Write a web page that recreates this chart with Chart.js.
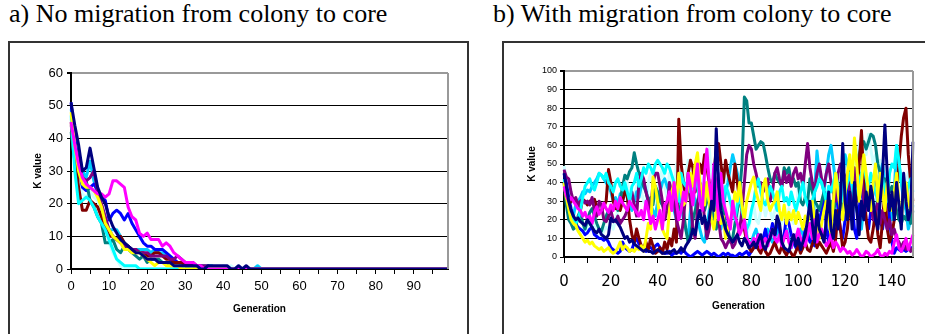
<!DOCTYPE html>
<html>
<head>
<meta charset="utf-8">
<script src="https://cdn.jsdelivr.net/npm/chart.js@4"></script>
<style>
  body { margin: 0; background: #fff; }
  #page { position: relative; width: 925px; height: 334px; overflow: hidden; }
  .title { position: absolute; top: 1px; font-family: "Liberation Serif", "Times New Roman", serif; font-size: 26px; line-height: 26px; color: #000; white-space: nowrap; }
  .frame { position: absolute; top: 41px; height: 330px; border: 2px solid #333; }
  .wrap { position: absolute; }
</style>
</head>
<body>
<div id="page">
  <div class="title" style="left:9px">a) No migration from colony to core</div>
  <div class="title" style="left:493px">b) With migration from colony to core</div>
  <div class="frame" style="left:8px;width:457px"></div>
  <div class="frame" style="left:502px;width:440px"></div>
  <div class="wrap" style="left:10px;top:58px;width:455px;height:268px"><canvas id="chartA"></canvas></div>
  <div class="wrap" style="left:505px;top:56px;width:420px;height:270px"><canvas id="chartB"></canvas></div>
</div>
<script>
// generations (categories)
const genA = Array.from({ length: 100 }, (_, i) => i);
const genB = Array.from({ length: 150 }, (_, i) => i);

const yTicksA = [0, 10, 20, 30, 40, 50, 60];
const yTicksB = [0, 10, 20, 30, 40, 50, 60, 70, 80, 90, 100];

// Excel default line colours, in series order
const seriesColors = ["#000080", "#FF00FF", "#FFFF00", "#00FFFF", "#800080", "#800000", "#008080", "#0000FF", "#00CCFF", "#CCFFFF"];

// ---- a) No migration from colony to core ----
const a_navy = [
  51, 44, 38, 30, 31, 37, 31, 25, 22, 20, 16, 13, 11, 9, 8, 7, 6, 5, 5, 4,
  3, 3, 3, 2, 2, 2, 2, 1, 1, 1, 1, 1, 1, 1, 0, 0, 1, 1, 1, 1,
  1, 1, 0, 0, 1, 0, 1, 0, 0, 0, 0, 0, 0, 0, 0, 0, 0, 0, 0, 0,
  0, 0, 0, 0, 0, 0, 0, 0, 0, 0, 0, 0, 0, 0, 0, 0, 0, 0, 0, 0,
  0, 0, 0, 0, 0, 0, 0, 0, 0, 0, 0, 0, 0, 0, 0, 0, 0, 0, 0, 0,
];
const a_magenta = [
  45, 38, 32, 28, 26, 25, 24, 23, 23, 22, 23, 27, 27, 26, 25, 19, 16, 15, 11, 10,
  11, 9, 9, 9, 7, 8, 7, 5, 4, 3, 2, 2, 2, 1, 1, 0, 0, 0, 0, 0,
  0, 0, 0, 0, 0, 0, 0, 0, 0, 0, 0, 0, 0, 0, 0, 0, 0, 0, 0, 0,
  0, 0, 0, 0, 0, 0, 0, 0, 0, 0, 0, 0, 0, 0, 0, 0, 0, 0, 0, 0,
  0, 0, 0, 0, 0, 0, 0, 0, 0, 0, 0, 0, 0, 0, 0, 0, 0, 0, 0, 0,
];
const a_yellow = [
  48, 38, 30, 26, 25, 25, 24, 22, 19, 14, 12, 10, 9, 8, 6, 6, 5, 5, 5, 4,
  3, 2, 1, 2, 2, 1, 1, 1, 1, 0, 0, 0, 0, 0, 0, 0, 0, 0, 0, 0,
  0, 0, 0, 0, 0, 0, 0, 0, 0, 0, 0, 0, 0, 0, 0, 0, 0, 0, 0, 0,
  0, 0, 0, 0, 0, 0, 0, 0, 0, 0, 0, 0, 0, 0, 0, 0, 0, 0, 0, 0,
  0, 0, 0, 0, 0, 0, 0, 0, 0, 0, 0, 0, 0, 0, 0, 0, 0, 0, 0, 0,
];
const a_cyan = [
  47, 30, 20, 21, 22, 21, 19, 16, 14, 12, 9, 6, 3, 2, 1, 1, 1, 1, 0, 0,
  0, 0, 0, 0, 0, 0, 0, 0, 0, 0, 0, 0, 0, 0, 0, 0, 0, 0, 0, 0,
  0, 0, 0, 0, 0, 0, 0, 0, 0, 0, 0, 0, 0, 0, 0, 0, 0, 0, 0, 0,
  0, 0, 0, 0, 0, 0, 0, 0, 0, 0, 0, 0, 0, 0, 0, 0, 0, 0, 0, 0,
  0, 0, 0, 0, 0, 0, 0, 0, 0, 0, 0, 0, 0, 0, 0, 0, 0, 0, 0, 0,
];
const a_purple = [
  44, 38, 33, 28, 27, 28, 30, 24, 20, 16, 12, 10, 9, 8, 7, 7, 6, 6, 5, 5,
  5, 4, 4, 4, 4, 4, 3, 3, 4, 3, 2, 2, 2, 1, 1, 1, 1, 0, 0, 0,
  0, 0, 0, 0, 0, 0, 0, 0, 0, 0, 0, 0, 0, 0, 0, 0, 0, 0, 0, 0,
  0, 0, 0, 0, 0, 0, 0, 0, 0, 0, 0, 0, 0, 0, 0, 0, 0, 0, 0, 0,
  0, 0, 0, 0, 0, 0, 0, 0, 0, 0, 0, 0, 0, 0, 0, 0, 0, 0, 0, 0,
];
const a_darkred = [
  45, 34, 25, 18, 18, 21, 20, 19, 16, 13, 10, 10, 9, 10, 8, 7, 6, 6, 5, 5,
  4, 4, 5, 5, 4, 3, 3, 2, 2, 2, 1, 1, 1, 0, 0, 0, 0, 0, 0, 0,
  0, 0, 0, 0, 0, 0, 0, 0, 0, 0, 0, 0, 0, 0, 0, 0, 0, 0, 0, 0,
  0, 0, 0, 0, 0, 0, 0, 0, 0, 0, 0, 0, 0, 0, 0, 0, 0, 0, 0, 0,
  0, 0, 0, 0, 0, 0, 0, 0, 0, 0, 0, 0, 0, 0, 0, 0, 0, 0, 0, 0,
];
const a_teal = [
  42, 33, 28, 28, 27, 21, 19, 16, 14, 8, 8, 9, 6, 5, 7, 6, 5, 4, 3, 4,
  2, 3, 3, 3, 2, 2, 1, 1, 1, 1, 1, 0, 0, 0, 0, 0, 0, 0, 0, 0,
  0, 0, 0, 0, 0, 0, 0, 0, 0, 0, 0, 0, 0, 0, 0, 0, 0, 0, 0, 0,
  0, 0, 0, 0, 0, 0, 0, 0, 0, 0, 0, 0, 0, 0, 0, 0, 0, 0, 0, 0,
  0, 0, 0, 0, 0, 0, 0, 0, 0, 0, 0, 0, 0, 0, 0, 0, 0, 0, 0, 0,
];
const a_blue = [
  51, 40, 31, 25, 24, 25, 26, 24, 22, 21, 15, 17, 18, 17, 15, 17, 14, 12, 10, 8,
  7, 7, 6, 6, 6, 5, 4, 3, 2, 2, 2, 1, 1, 1, 1, 0, 0, 0, 0, 0,
  0, 0, 0, 0, 0, 0, 0, 0, 0, 0, 0, 0, 0, 0, 0, 0, 0, 0, 0, 0,
  0, 0, 0, 0, 0, 0, 0, 0, 0, 0, 0, 0, 0, 0, 0, 0, 0, 0, 0, 0,
  0, 0, 0, 0, 0, 0, 0, 0, 0, 0, 0, 0, 0, 0, 0, 0, 0, 0, 0, 0,
];
const a_skyblue = [
  49, 42, 36, 30, 28, 33, 27, 23, 19, 15, 12, 12, 12, 10, 8, 7, 6, 6, 6, 6,
  6, 5, 6, 5, 5, 4, 3, 2, 2, 2, 1, 1, 1, 1, 1, 1, 1, 1, 0, 0,
  0, 0, 0, 0, 0, 0, 0, 0, 0, 1, 0, 0, 0, 0, 0, 0, 0, 0, 0, 0,
  0, 0, 0, 0, 0, 0, 0, 0, 0, 0, 0, 0, 0, 0, 0, 0, 0, 0, 0, 0,
  0, 0, 0, 0, 0, 0, 0, 0, 0, 0, 0, 0, 0, 0, 0, 0, 0, 0, 0, 0,
];
const a_lightcyan = [
  46, 35, 27, 23, 22, 24, 22, 21, 17, 12, 8, 5, 3, 1, 0, 0, 0, 0, 0, 0,
  0, 0, 0, 0, 0, 0, 0, 0, 0, 0, 0, 0, 0, 0, 0, 0, 0, 0, 0, 0,
  1, 0, 1, 0, 1, 0, 0, 0, 0, 0, 0, 0, 0, 0, 0, 0, 0, 0, 0, 0,
  0, 0, 0, 0, 0, 0, 0, 0, 0, 0, 0, 0, 0, 0, 0, 0, 0, 0, 0, 0,
  0, 0, 0, 0, 0, 0, 0, 0, 0, 0, 0, 0, 0, 0, 0, 0, 0, 0, 0, 0,
];

// ---- b) With migration from colony to core ----
const b_navy = [
  45, 38, 30, 25, 22, 20, 21, 19, 18, 17, 20, 18, 16, 14, 13, 15, 12, 11, 10, 12,
  21, 19, 20, 18, 16, 13, 10, 11, 8, 9, 7, 6, 5, 4, 3, 4, 3, 3, 2, 3,
  4, 3, 2, 2, 3, 2, 3, 4, 2, 3, 5, 3, 6, 8, 10, 15, 12, 20, 25, 18,
  22, 15, 20, 30, 25, 69, 40, 25, 20, 15, 12, 10, 8, 10, 12, 8, 6, 10, 8, 5,
  6, 8, 5, 9, 12, 6, 4, 8, 10, 15, 12, 22, 18, 8, 5, 4, 3, 8, 12, 6,
  10, 4, 8, 12, 20, 30, 18, 8, 25, 15, 12, 8, 20, 35, 15, 10, 25, 15, 30, 61,
  30, 20, 35, 15, 40, 25, 12, 30, 20, 35, 25, 38, 30, 20, 15, 30, 45, 71, 45, 25,
  35, 20, 40, 28, 15, 45, 30, 20, 25, 62,
];
const b_magenta = [
  38, 33, 30, 32, 30, 28, 26, 25, 22, 24, 20, 22, 18, 24, 27, 23, 25, 29, 26, 24,
  28, 25, 30, 26, 32, 29, 27, 25, 30, 28, 26, 24, 22, 25, 20, 30, 25, 18, 22, 15,
  20, 25, 15, 28, 30, 35, 25, 40, 30, 20, 25, 35, 30, 45, 38, 28, 40, 50, 30, 25,
  45, 58, 40, 30, 50, 35, 20, 45, 30, 25, 20, 15, 30, 22, 18, 12, 15, 20, 10, 8,
  6, 10, 8, 12, 5, 8, 10, 6, 12, 15, 10, 8, 12, 6, 10, 14, 8, 5, 12, 10,
  15, 10, 8, 6, 12, 18, 10, 20, 8, 12, 15, 10, 6, 8, 12, 5, 8, 6, 3, 5,
  4, 2, 3, 1, 2, 4, 2, 0, 1, 3, 2, 0, 1, 2, 4, 1, 0, 2, 1, 3,
  2, 8, 12, 5, 3, 6, 10, 4, 8, 12,
];
const b_yellow = [
  40, 32, 26, 20, 18, 17, 14, 12, 10, 8, 9, 7, 8, 6, 5, 4, 5, 3, 4, 5,
  3, 2, 3, 5, 8, 4, 6, 5, 3, 4, 3, 5, 4, 6, 3, 10, 18, 15, 43, 38,
  30, 20, 15, 12, 10, 25, 35, 40, 30, 45, 35, 28, 30, 40, 45, 38, 50, 56, 40, 35,
  28, 40, 30, 20, 15, 25, 30, 18, 22, 10, 15, 20, 25, 35, 30, 40, 28, 20, 30, 35,
  40, 43, 35, 30, 25, 38, 42, 30, 25, 28, 30, 35, 25, 20, 28, 18, 24, 20, 25, 18,
  24, 20, 15, 22, 18, 25, 30, 20, 15, 10, 18, 25, 30, 20, 12, 30, 45, 35, 25, 20,
  35, 45, 55, 40, 64, 50, 30, 40, 55, 45, 35, 25, 40, 50, 30, 45, 35, 25, 40, 30,
  25, 35, 45, 30, 20, 35, 40, 30, 25, 30,
];
const b_cyan = [
  42, 35, 28, 24, 20, 18, 20, 25, 32, 38, 40, 42, 38, 36, 40, 45, 44, 42, 45, 40,
  38, 35, 40, 42, 38, 36, 40, 35, 30, 38, 40, 45, 38, 42, 48, 45, 50, 48, 45, 50,
  52, 50, 48, 45, 50, 48, 44, 40, 35, 30, 45, 40, 38, 42, 35, 40, 45, 38, 30, 35,
  40, 35, 30, 38, 42, 35, 28, 30, 32, 38, 35, 30, 25, 20, 28, 32, 25, 20, 15, 18,
  25, 30, 38, 42, 35, 30, 28, 32, 38, 35, 30, 25, 35, 38, 30, 32, 28, 35, 30, 25,
  30, 35, 40, 32, 28, 25, 30, 35, 38, 42, 40, 35, 30, 38, 35, 40, 45, 38, 32, 30,
  35, 40, 45, 38, 30, 35, 40, 45, 50, 42, 38, 45, 40, 35, 30, 38, 42, 35, 30, 45,
  50, 48, 60, 52, 40, 35, 30, 38, 42, 35,
];
const b_purple = [
  47, 43, 42, 35, 30, 32, 28, 30, 31, 29, 30, 28, 32, 25, 22, 30, 28, 20, 19, 22,
  25, 20, 19, 22, 18, 20, 22, 25, 30, 35, 28, 22, 40, 45, 42, 35, 30, 25, 40, 45,
  45, 38, 30, 20, 25, 40, 35, 30, 20, 15, 10, 20, 35, 40, 30, 15, 10, 25, 40, 35,
  20, 10, 15, 30, 45, 40, 20, 10, 8, 5, 8, 10, 5, 7, 12, 15, 25, 40, 55, 60,
  58, 50, 45, 38, 40, 35, 38, 42, 30, 35, 45, 48, 42, 38, 46, 40, 44, 38, 45, 48,
  42, 45, 38, 50, 61, 48, 40, 35, 45, 50, 42, 38, 45, 50, 40, 35, 30, 45, 50, 48,
  40, 45, 35, 30, 48, 40, 35, 45, 30, 25, 35, 28, 20, 25, 30, 18, 25, 20, 15, 20,
  12, 15, 10, 8, 5, 8, 4, 6, 3, 5,
];
const b_darkred = [
  40, 32, 28, 30, 31, 30, 28, 25, 31, 30, 28, 30, 29, 31, 27, 24, 25, 27, 30, 47,
  40, 30, 26, 28, 25, 30, 35, 33, 20, 12, 8, 15, 10, 6, 5, 8, 4, 10, 6, 2,
  3, 5, 2, 8, 4, 10, 6, 15, 8, 74, 50, 40, 30, 45, 52, 48, 35, 40, 50, 45,
  55, 48, 40, 30, 45, 58, 61, 50, 40, 52, 45, 40, 35, 50, 40, 30, 25, 15, 8, 5,
  3, 5, 8, 4, 2, 6, 3, 1, 2, 5, 8, 4, 2, 6, 3, 1, 4, 2, 0, 3,
  6, 2, 5, 8, 4, 3, 7, 10, 5, 8, 6, 4, 2, 5, 8, 3, 10, 25, 15, 5,
  8, 15, 30, 20, 45, 30, 50, 68, 40, 20, 10, 8, 15, 25, 12, 5, 20, 35, 15, 8,
  12, 20, 35, 50, 65, 75, 80, 55, 40, 30,
];
const b_teal = [
  40, 28, 20, 18, 15, 16, 22, 25, 18, 15, 20, 24, 26, 22, 18, 15, 14, 18, 22, 25,
  24, 26, 28, 25, 30, 38, 44, 42, 46, 48, 56, 50, 45, 42, 38, 35, 30, 32, 28, 38,
  35, 30, 28, 25, 30, 28, 32, 35, 30, 25, 28, 25, 15, 8, 12, 20, 25, 30, 35, 28,
  25, 30, 35, 28, 20, 15, 22, 30, 25, 18, 15, 8, 10, 18, 25, 35, 50, 86, 84, 72,
  72, 65, 58, 60, 62, 61, 55, 48, 42, 40, 45, 42, 40, 38, 48, 45, 48, 40, 42, 38,
  40, 30, 28, 32, 30, 42, 35, 30, 28, 25, 30, 35, 28, 25, 30, 20, 35, 40, 30, 25,
  35, 40, 50, 45, 35, 40, 55, 60, 62, 58, 62, 66, 65, 60, 50, 45, 38, 42, 40, 35,
  38, 30, 25, 20, 18, 22, 20, 25, 18, 25,
];
const b_blue = [
  45, 40, 32, 26, 22, 18, 16, 15, 14, 12, 13, 15, 16, 12, 11, 10, 10, 9, 10, 8,
  5, 4, 3, 2, 3, 8, 5, 4, 3, 4, 8, 10, 7, 6, 5, 3, 6, 5, 4, 6,
  7, 5, 3, 2, 2, 3, 1, 2, 2, 3, 2, 4, 2, 1, 0, 1, 2, 3, 2, 1,
  2, 3, 2, 1, 2, 1, 0, 1, 2, 1, 2, 1, 1, 0, 1, 2, 1, 2, 3, 1,
  3, 5, 8, 12, 6, 10, 15, 8, 12, 18, 10, 20, 15, 8, 12, 22, 18, 12, 8, 5,
  10, 6, 8, 15, 12, 8, 10, 6, 12, 20, 25, 35, 15, 8, 20, 30, 40, 25, 15, 10,
  20, 35, 45, 30, 15, 10, 25, 40, 30, 20, 15, 25, 35, 45, 30, 20, 15, 25, 35, 20,
  8, 2, 5, 4, 3, 4, 3, 4, 5, 5,
];
const b_skyblue = [
  40, 36, 30, 25, 22, 28, 30, 32, 35, 34, 36, 35, 38, 40, 42, 45, 44, 42, 40, 38,
  35, 30, 32, 28, 34, 30, 36, 32, 28, 25, 30, 35, 32, 38, 40, 36, 30, 28, 25, 22,
  30, 35, 40, 42, 38, 35, 30, 25, 20, 35, 28, 20, 15, 10, 25, 35, 30, 20, 15, 10,
  8, 15, 25, 35, 40, 30, 20, 15, 25, 35, 40, 48, 55, 50, 45, 35, 28, 20, 12, 5,
  8, 12, 15, 10, 6, 8, 12, 15, 10, 8, 12, 15, 10, 8, 12, 15, 10, 5, 8, 12,
  10, 15, 12, 8, 14, 10, 6, 35, 57, 45, 40, 35, 45, 55, 60, 50, 40, 30, 25, 40,
  55, 50, 45, 35, 30, 25, 20, 15, 28, 40, 35, 30, 25, 20, 35, 45, 50, 40, 30, 25,
  20, 35, 60, 50, 40, 30, 25, 15, 20, 28,
];
const b_lightcyan = [
  49, 42, 35, 28, 24, 18, 14, 12, 15, 14, 16, 18, 20, 17, 12, 10, 11, 14, 16, 15,
  17, 15, 20, 25, 30, 35, 38, 40, 35, 30, 32, 38, 42, 35, 30, 28, 40, 45, 38, 30,
  35, 42, 48, 38, 32, 45, 40, 35, 50, 42, 30, 38, 45, 52, 40, 35, 48, 55, 42, 38,
  45, 50, 59, 42, 35, 48, 40, 30, 38, 45, 35, 28, 22, 30, 25, 20, 18, 15, 12, 16,
  22, 28, 20, 18, 25, 30, 22, 28, 25, 20, 25, 28, 22, 18, 24, 20, 26, 22, 18, 20,
  38, 42, 45, 40, 35, 30, 25, 28, 22, 20, 25, 30, 20, 15, 8, 5, 15, 22, 35, 25,
  18, 22, 35, 40, 50, 55, 60, 66, 62, 55, 66, 58, 50, 55, 48, 52, 45, 40, 35, 30,
  28, 32, 30, 25, 28, 35, 40, 45, 48, 45,
];

const seriesA = [a_navy, a_magenta, a_yellow, a_cyan, a_purple, a_darkred, a_teal, a_blue, a_skyblue, a_lightcyan];
const seriesB = [b_navy, b_magenta, b_yellow, b_cyan, b_purple, b_darkred, b_teal, b_blue, b_skyblue, b_lightcyan];

// gray plot-area border on the right side
const plotBorder = {
  id: "plotBorder",
  afterDraw(chart) {
    const { ctx, chartArea } = chart;
    ctx.save();
    ctx.strokeStyle = "#999";
    ctx.lineWidth = 2;
    ctx.beginPath();
    ctx.moveTo(chartArea.right, chartArea.top);
    ctx.lineTo(chartArea.right, chartArea.bottom);
    ctx.stroke();
    ctx.restore();
  },
};

function buildChart(id, labels, series, o) {
  const yMax = o.yTicks[o.yTicks.length - 1];
  return new Chart(document.getElementById(id), {
    type: "line",
    plugins: [plotBorder],
    data: {
      labels: labels,
      datasets: series.map((vals, i) => ({
        data: vals,
        borderColor: seriesColors[i],
        borderWidth: 3,
        pointRadius: 0,
        tension: 0,
        borderJoinStyle: "round",
        fill: false,
      })),
    },
    options: {
      responsive: true,
      maintainAspectRatio: false,
      animation: false,
      layout: { padding: o.padding },
      plugins: { legend: { display: false }, tooltip: { enabled: false } },
      scales: {
        x: {
          type: "category",
          afterFit: (s) => { s.height = o.xHeight; },
          border: { color: "#000", width: 2 },
          grid: { drawOnChartArea: false, drawTicks: true, tickLength: o.xTickLen, color: "#000", lineWidth: 1 },
          ticks: {
            autoSkip: false,
            maxRotation: 0,
            padding: o.xTickPad,
            color: "#000",
            font: o.xFont,
            callback: (v, i) => {
              if (i % o.xMinor !== 0) return null;
              return i % o.xMajor === 0 ? String(labels[i]) : "";
            },
          },
          title: {
            display: true,
            text: "Generation",
            color: "#000",
            font: { family: "'Liberation Sans', Arial, sans-serif", size: 10, weight: "bold" },
            padding: { top: 4, bottom: 4 },
          },
        },
        y: {
          min: 0,
          max: yMax,
          afterFit: (s) => { s.width = o.yWidth; },
          afterBuildTicks: (s) => { s.ticks = o.yTicks.map((v) => ({ value: v })); },
          border: { color: "#000", width: 2 },
          grid: {
            color: (c) => (c.tick && c.tick.value === yMax ? "#999" : "#000"),
            lineWidth: (c) => (c.tick && c.tick.value === yMax ? 2 : 1),
            tickColor: "#000",
            tickLength: 4,
          },
          ticks: { color: "#000", padding: o.yTickPad, font: o.yFont },
          title: {
            display: true,
            text: "K value",
            color: "#000",
            font: { family: "'Liberation Sans', Arial, sans-serif", size: 10, weight: "bold" },
            padding: { top: 4, bottom: 4 },
          },
        },
      },
    },
  });
}

buildChart("chartA", genA, seriesA, {
  yTicks: yTicksA,
  padding: { left: 18, top: 15, right: 17, bottom: 7 },
  yWidth: 43,
  xHeight: 50,
  xTickLen: 5,
  xTickPad: 5,
  xMinor: 5,
  xMajor: 10,
  yTickPad: 4,
  xFont: { family: "'Liberation Sans', Arial, sans-serif", size: 13 },
  yFont: { family: "'Liberation Sans', Arial, sans-serif", size: 13 },
});

buildChart("chartB", genB, seriesB, {
  yTicks: yTicksB,
  padding: { left: 17, top: 15, right: 12, bottom: 10 },
  yWidth: 42,
  xHeight: 59,
  xTickLen: 6,
  xTickPad: 10,
  xMinor: 10,
  xMajor: 20,
  yTickPad: 3,
  xFont: { family: "'DejaVu Sans', Verdana, sans-serif", size: 15 },
  yFont: { family: "'Liberation Sans', Arial, sans-serif", size: 9 },
});
</script>
</body>
</html>
